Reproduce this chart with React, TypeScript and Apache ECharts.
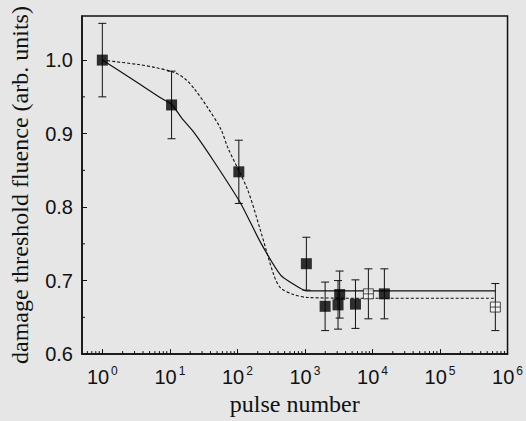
import React, { useEffect, useRef } from "react";
import * as echarts from "echarts";

// filled squares
const pulseNumbers = [1, 10.6, 105, 1050, 1990, 3090, 3270, 5600, 15000];
const thresholds = [1.0, 0.939, 0.848, 0.723, 0.665, 0.667, 0.681, 0.668, 0.682];
const errors = [0.05, 0.046, 0.043, 0.036, 0.033, 0.033, 0.032, 0.033, 0.034];

// open squares
const openPulseNumbers = [8700, 660000];
const openThresholds = [0.682, 0.664];
const openErrors = [0.034, 0.032];

// solid fit curve
const solidFitN = [1, 3, 7.5, 10.6, 15, 23, 45, 112, 220, 440, 680, 1060, 10000, 100000, 660000];
const solidFitY = [1.0, 0.972, 0.948, 0.94, 0.921, 0.901, 0.862, 0.805, 0.752, 0.707, 0.695, 0.686, 0.686, 0.686, 0.686];

// dashed fit curve
const dashedFitN = [1, 3.4, 6, 11.8, 17, 23, 36.5, 57, 72, 141, 220, 345, 436, 680, 1100, 10000, 100000, 660000];
const dashedFitY = [1.0, 0.994, 0.99, 0.983, 0.974, 0.961, 0.935, 0.906, 0.881, 0.824, 0.768, 0.708, 0.69, 0.681, 0.677, 0.676, 0.676, 0.676];

// axis ticks
const xDecades = [0.1, 1, 10, 100, 1000, 10000, 100000];
const xMinorMultipliers = [2, 3, 4, 5, 6, 7, 8, 9];
const yMinorTickValues = [0.65, 0.75, 0.85, 0.95];

const X_MIN = 0.5;
const X_MAX = 1e6;
const Y_MIN = 0.6;
const Y_MAX = 1.06;

const INK = "#111";

export default function App() {
  const ref = useRef<HTMLDivElement>(null);

  useEffect(() => {
    if (!ref.current) return;
    const chart = echarts.init(ref.current, undefined, { renderer: "svg" });

    const xMinor: number[][] = [];
    xDecades.forEach((d) =>
      xMinorMultipliers.forEach((m) => {
        const v = d * m;
        if (v > X_MIN && v < X_MAX) xMinor.push([v, Y_MIN]);
      })
    );
    const yMinor = yMinorTickValues.map((v) => [X_MIN, v]);

    const errData = pulseNumbers.map((n, i) => [n, thresholds[i] - errors[i], thresholds[i] + errors[i]]);
    const openErrData = openPulseNumbers.map((n, i) => [
      n,
      openThresholds[i] - openErrors[i],
      openThresholds[i] + openErrors[i],
    ]);

    const errRender = (params: any, api: any) => {
      const x = api.value(0);
      const lo = api.coord([x, api.value(1)]);
      const hi = api.coord([x, api.value(2)]);
      const w = 4;
      const st = { stroke: INK, lineWidth: 1 };
      return {
        type: "group",
        children: [
          { type: "line", shape: { x1: lo[0], y1: lo[1], x2: hi[0], y2: hi[1] }, style: st },
          { type: "line", shape: { x1: lo[0] - w, y1: lo[1], x2: lo[0] + w, y2: lo[1] }, style: st },
          { type: "line", shape: { x1: hi[0] - w, y1: hi[1], x2: hi[0] + w, y2: hi[1] }, style: st },
        ],
      };
    };

    chart.setOption({
      animation: false,
      backgroundColor: "transparent",
      grid: {
        left: 80,
        right: 16,
        top: 16,
        bottom: 61,
        show: true,
        borderColor: INK,
        borderWidth: 1.5,
        backgroundColor: "transparent",
      },
      xAxis: {
        type: "log",
        logBase: 10,
        min: X_MIN,
        max: X_MAX,
        name: "pulse number",
        nameLocation: "middle",
        nameGap: 37,
        nameTextStyle: { fontFamily: "Liberation Serif", fontSize: 24, color: INK },
        axisLine: { show: true, lineStyle: { color: INK, width: 1.5 } },
        axisTick: { show: true, inside: true, length: 5, lineStyle: { color: INK, width: 1 } },
        splitLine: { show: false },
        axisLabel: {
          showMinLabel: false,
          margin: 11,
          color: INK,
          formatter: (v: number) => `{b|10}{s|${Math.round(Math.log10(v))}}`,
          rich: {
            b: { fontFamily: "Liberation Sans", fontSize: 20, color: INK, lineHeight: 22, verticalAlign: "bottom" },
            s: {
              fontFamily: "Liberation Sans",
              fontSize: 12,
              color: INK,
              lineHeight: 22,
              verticalAlign: "top",
              padding: [0, 0, 0, 2],
            },
          },
        },
      },
      yAxis: {
        type: "value",
        min: Y_MIN,
        max: Y_MAX,
        interval: 0.1,
        name: "damage threshold fluence (arb. units)",
        nameLocation: "middle",
        nameGap: 50,
        nameTextStyle: { fontFamily: "Liberation Serif", fontSize: 24, color: INK },
        axisLine: { show: true, lineStyle: { color: INK, width: 1.5 } },
        axisTick: { show: true, inside: true, length: 5, lineStyle: { color: INK, width: 1 } },
        splitLine: { show: false },
        axisLabel: {
          showMaxLabel: false,
          margin: 9,
          fontFamily: "Liberation Sans",
          fontSize: 20,
          color: INK,
          formatter: (v: number) => v.toFixed(1),
        },
      },
      series: [
        {
          type: "custom",
          silent: true,
          renderItem: (params: any, api: any) => {
            const p = api.coord([api.value(0), api.value(1)]);
            return {
              type: "line",
              shape: { x1: p[0], y1: p[1], x2: p[0], y2: p[1] - 3 },
              style: { stroke: INK, lineWidth: 1 },
            };
          },
          data: xMinor,
          z: 1,
        },
        {
          type: "custom",
          silent: true,
          renderItem: (params: any, api: any) => {
            const p = api.coord([api.value(0), api.value(1)]);
            return {
              type: "line",
              shape: { x1: p[0], y1: p[1], x2: p[0] + 3, y2: p[1] },
              style: { stroke: INK, lineWidth: 1 },
            };
          },
          data: yMinor,
          z: 1,
        },
        {
          type: "line",
          data: dashedFitN.map((n, i) => [n, dashedFitY[i]]),
          showSymbol: false,
          smooth: 0.3,
          lineStyle: { color: INK, width: 1.1, type: [3, 2] },
          z: 2,
        },
        {
          type: "line",
          data: solidFitN.map((n, i) => [n, solidFitY[i]]),
          showSymbol: false,
          smooth: 0.2,
          lineStyle: { color: INK, width: 1.2 },
          z: 2,
        },
        {
          type: "custom",
          renderItem: errRender,
          data: errData,
          encode: { x: 0, y: [1, 2] },
          z: 3,
        },
        {
          type: "custom",
          renderItem: errRender,
          data: openErrData,
          encode: { x: 0, y: [1, 2] },
          z: 3,
        },
        {
          type: "scatter",
          data: openPulseNumbers.map((n, i) => [n, openThresholds[i]]),
          symbol: "path://M0,0H10V10H0Z M5,0V10 M0,5H10",
          symbolSize: 10,
          itemStyle: { color: "#f4f4f4", borderColor: "#222", borderWidth: 1 },
          z: 4,
        },
        {
          type: "scatter",
          data: pulseNumbers.map((n, i) => [n, thresholds[i]]),
          symbol: "rect",
          symbolSize: 11,
          itemStyle: { color: "#000" },
          z: 5,
        },
      ],
    });

    return () => chart.dispose();
  }, []);

  return (
    <div
      style={{
        position: "fixed",
        left: 0,
        top: 0,
        width: 526,
        height: 421,
        background: "#e6e6e6",
      }}
    >
      <div ref={ref} style={{ width: 526, height: 421 }} />
    </div>
  );
}
